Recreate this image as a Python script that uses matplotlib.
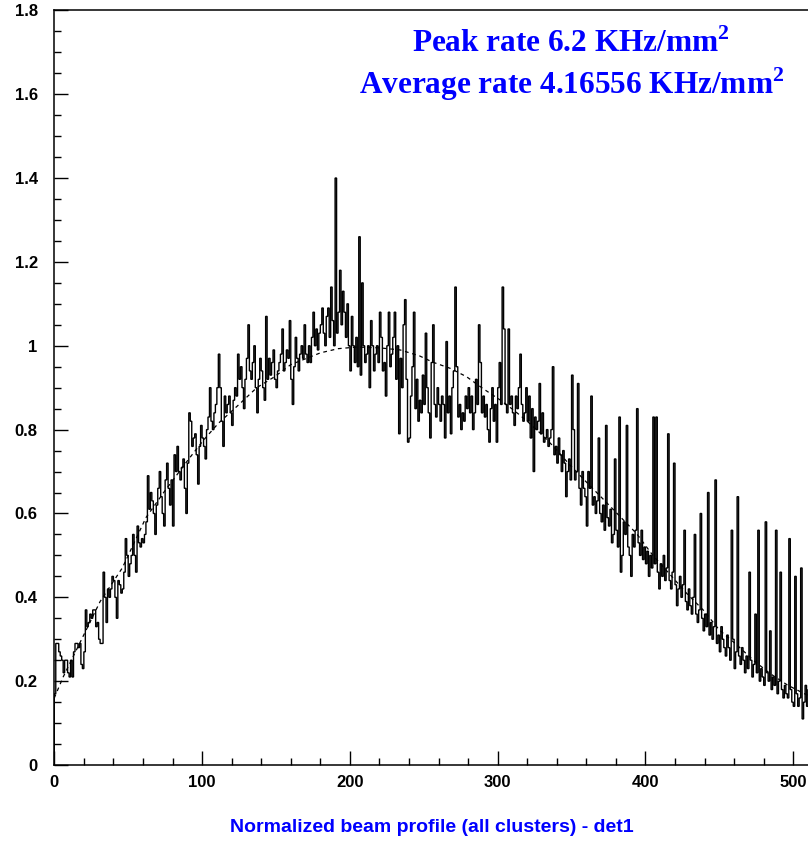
import matplotlib
matplotlib.use('Agg')
import matplotlib.pyplot as plt
from matplotlib.ticker import MultipleLocator, FuncFormatter
import numpy as np

# histogram contents, one value per bin (bins of width 1 from 0 to 512)
profile = [
    0.17, 0.29, 0.29, 0.27, 0.26, 0.25, 0.22, 0.25, 0.25, 0.22, 0.21, 0.25, 0.21, 0.27, 0.29, 0.29,
    0.28, 0.29, 0.24, 0.23, 0.27, 0.37, 0.33, 0.34, 0.36, 0.35, 0.37, 0.37, 0.33, 0.34, 0.30, 0.29,
    0.29, 0.46, 0.40, 0.34, 0.42, 0.40, 0.42, 0.45, 0.44, 0.40, 0.35, 0.44, 0.43, 0.41, 0.42, 0.46,
    0.54, 0.50, 0.45, 0.48, 0.50, 0.55, 0.50, 0.46, 0.57, 0.53, 0.52, 0.54, 0.53, 0.55, 0.58, 0.69,
    0.61, 0.65, 0.63, 0.60, 0.55, 0.62, 0.66, 0.70, 0.64, 0.60, 0.57, 0.68, 0.72, 0.66, 0.62, 0.68,
    0.57, 0.74, 0.70, 0.76, 0.70, 0.68, 0.71, 0.73, 0.66, 0.60, 0.72, 0.84, 0.82, 0.76, 0.78, 0.79,
    0.74, 0.67, 0.76, 0.81, 0.78, 0.76, 0.73, 0.80, 0.83, 0.90, 0.82, 0.80, 0.84, 0.86, 0.90, 0.98,
    0.90, 0.82, 0.76, 0.88, 0.84, 0.86, 0.88, 0.84, 0.81, 0.87, 0.90, 0.88, 0.98, 0.92, 0.95, 0.90,
    0.85, 0.92, 0.97, 1.05, 0.94, 0.92, 0.96, 1.00, 0.90, 0.84, 0.92, 0.97, 0.94, 0.90, 0.87, 1.07,
    0.92, 0.97, 0.93, 0.96, 0.99, 0.92, 0.90, 0.94, 0.96, 0.98, 1.04, 0.94, 0.96, 0.99, 0.97, 1.06,
    0.92, 0.86, 0.95, 1.02, 0.97, 0.94, 0.98, 1.00, 0.97, 1.05, 0.98, 0.96, 1.00, 0.96, 1.02, 1.08,
    1.00, 1.04, 0.99, 1.03, 1.05, 1.09, 1.03, 1.00, 1.07, 1.09, 1.02, 1.14, 1.06, 1.00, 1.40, 1.03,
    1.08, 1.18, 1.05, 1.13, 1.08, 1.02, 1.10, 1.00, 0.94, 1.07, 1.00, 0.96, 1.02, 0.95, 1.26, 0.93,
    1.15, 1.00, 0.96, 0.98, 1.00, 0.90, 1.06, 1.00, 0.94, 0.98, 1.00, 0.96, 1.08, 1.02, 0.94, 0.96,
    0.88, 1.00, 1.08, 0.95, 0.98, 1.02, 1.08, 0.92, 1.00, 0.79, 0.97, 0.90, 1.05, 1.11, 0.92, 0.77,
    0.78, 0.88, 0.95, 1.08, 0.85, 0.92, 0.82, 0.87, 0.84, 0.93, 0.86, 1.03, 0.90, 0.84, 0.78, 0.96,
    1.05, 0.86, 0.83, 0.90, 0.86, 0.82, 0.88, 0.86, 0.78, 1.01, 0.84, 0.88, 0.79, 0.90, 0.94, 1.14,
    0.95, 0.83, 0.86, 0.80, 0.84, 0.82, 0.88, 0.85, 0.90, 0.84, 0.88, 0.80, 0.84, 0.92, 0.86, 1.05,
    0.96, 0.84, 0.88, 0.83, 0.86, 0.80, 0.77, 0.85, 0.90, 0.82, 0.86, 0.77, 0.90, 0.96, 0.86, 1.14,
    1.04, 0.86, 0.84, 1.04, 0.86, 0.88, 0.84, 0.81, 0.88, 0.85, 0.90, 0.98, 0.86, 0.82, 0.84, 0.90,
    0.82, 0.88, 0.78, 0.85, 0.70, 0.83, 0.80, 0.82, 0.91, 0.79, 0.84, 0.77, 0.78, 0.80, 0.76, 0.78,
    0.80, 0.95, 0.74, 0.76, 0.72, 0.78, 0.74, 0.70, 0.75, 0.72, 0.64, 0.70, 0.73, 0.68, 0.93, 0.80,
    0.68, 0.70, 0.91, 0.66, 0.62, 0.70, 0.66, 0.64, 0.57, 0.70, 0.66, 0.88, 0.62, 0.64, 0.60, 0.63,
    0.78, 0.60, 0.58, 0.62, 0.56, 0.81, 0.59, 0.57, 0.61, 0.53, 0.55, 0.73, 0.56, 0.52, 0.83, 0.46,
    0.50, 0.58, 0.55, 0.81, 0.52, 0.50, 0.45, 0.55, 0.52, 0.56, 0.85, 0.53, 0.50, 0.56, 0.49, 0.52,
    0.48, 0.51, 0.45, 0.50, 0.47, 0.83, 0.48, 0.83, 0.46, 0.42, 0.48, 0.45, 0.50, 0.44, 0.47, 0.79,
    0.44, 0.42, 0.46, 0.72, 0.43, 0.38, 0.42, 0.45, 0.40, 0.43, 0.56, 0.39, 0.37, 0.42, 0.38, 0.36,
    0.40, 0.55, 0.36, 0.34, 0.37, 0.60, 0.35, 0.32, 0.36, 0.33, 0.65, 0.31, 0.34, 0.30, 0.33, 0.68,
    0.29, 0.31, 0.27, 0.33, 0.30, 0.28, 0.26, 0.31, 0.28, 0.25, 0.56, 0.30, 0.23, 0.27, 0.64, 0.26,
    0.24, 0.28, 0.25, 0.22, 0.26, 0.23, 0.46, 0.25, 0.21, 0.24, 0.36, 0.22, 0.56, 0.20, 0.23, 0.21,
    0.19, 0.58, 0.22, 0.20, 0.32, 0.18, 0.21, 0.19, 0.56, 0.17, 0.20, 0.46, 0.18, 0.16, 0.19, 0.17,
    0.16, 0.54, 0.18, 0.15, 0.14, 0.45, 0.17, 0.14, 0.16, 0.47, 0.11, 0.15, 0.19, 0.14, 0.18, 0.21,
]
bin_edges = np.arange(len(profile) + 1)

# fitted curve
fit_x = [0, 6, 31, 46, 62, 74, 91, 101, 111, 125, 137, 149, 160, 180, 192, 205, 220, 234,
         247, 256, 268, 279, 290, 302, 311, 320, 329, 338, 349, 360, 372, 383, 394, 405,
         417, 428, 439, 450, 462, 473, 484, 496, 507, 512]
fit_y = [0.16, 0.21, 0.39, 0.47, 0.59, 0.65, 0.73, 0.775, 0.815, 0.86, 0.90, 0.926, 0.955,
         0.983, 0.993, 0.997, 0.995, 0.99, 0.976, 0.961, 0.946, 0.926, 0.898, 0.87, 0.846,
         0.82, 0.791, 0.759, 0.715, 0.675, 0.632, 0.592, 0.552, 0.50, 0.453, 0.409, 0.37,
         0.322, 0.286, 0.25, 0.219, 0.191, 0.171, 0.163]

peak_rate = '6.2'
avg_rate = '4.16556'
title = 'Normalized beam profile (all clusters) - det1'

plt.rcParams['mathtext.fontset'] = 'custom'
plt.rcParams['mathtext.rm'] = 'Liberation Serif:bold'
plt.rcParams['mathtext.bf'] = 'Liberation Serif:bold'

fig = plt.figure(figsize=(8.08, 8.46), dpi=100)
ax = fig.add_axes([0.0672, 0.0957, 0.9365, 0.8921])

ax.stairs(profile, bin_edges, baseline=0, color='black', lw=1.0)
ax.plot(fit_x, fit_y, color='black', lw=0.9, ls=(0, (3, 3)))

ax.set_xlim(0, 512)
ax.set_ylim(0, 1.8)
ax.xaxis.set_major_locator(MultipleLocator(100))
ax.xaxis.set_minor_locator(MultipleLocator(20))
ax.yaxis.set_major_locator(MultipleLocator(0.2))
ax.yaxis.set_minor_locator(MultipleLocator(0.05))
ax.yaxis.set_major_formatter(FuncFormatter(lambda v, p: '%g' % round(v, 2)))

ax.tick_params(which='major', direction='in', length=10, width=1.0, top=False, right=False)
ax.tick_params(which='minor', direction='in', length=5, width=1.0, top=False, right=False)
ax.tick_params(axis='x', pad=7)
ax.tick_params(axis='y', pad=12)
for lab in ax.get_xticklabels() + ax.get_yticklabels():
    lab.set_fontfamily('Liberation Sans')
    lab.set_fontweight('bold')
    lab.set_fontsize(12)
for sp in ax.spines.values():
    sp.set_linewidth(1.1)

fig.text(0.707, 0.938, 'Peak rate %s KHz/mm$^{\\mathbf{2}}$' % peak_rate,
         family='Liberation Serif', weight='bold', size=22.5, color='#0000ff', ha='center')
fig.text(0.708, 0.889, 'Average rate %s KHz/mm$^{\\mathbf{2}}$' % avg_rate,
         family='Liberation Serif', weight='bold', size=22.5, color='#0000ff', ha='center')

fig.text(0.534, 0.0213, title, family='Liberation Sans',
         weight='bold', size=14, color='#0000ff', ha='center', va='center')

fig.savefig('out.png', dpi=100)
